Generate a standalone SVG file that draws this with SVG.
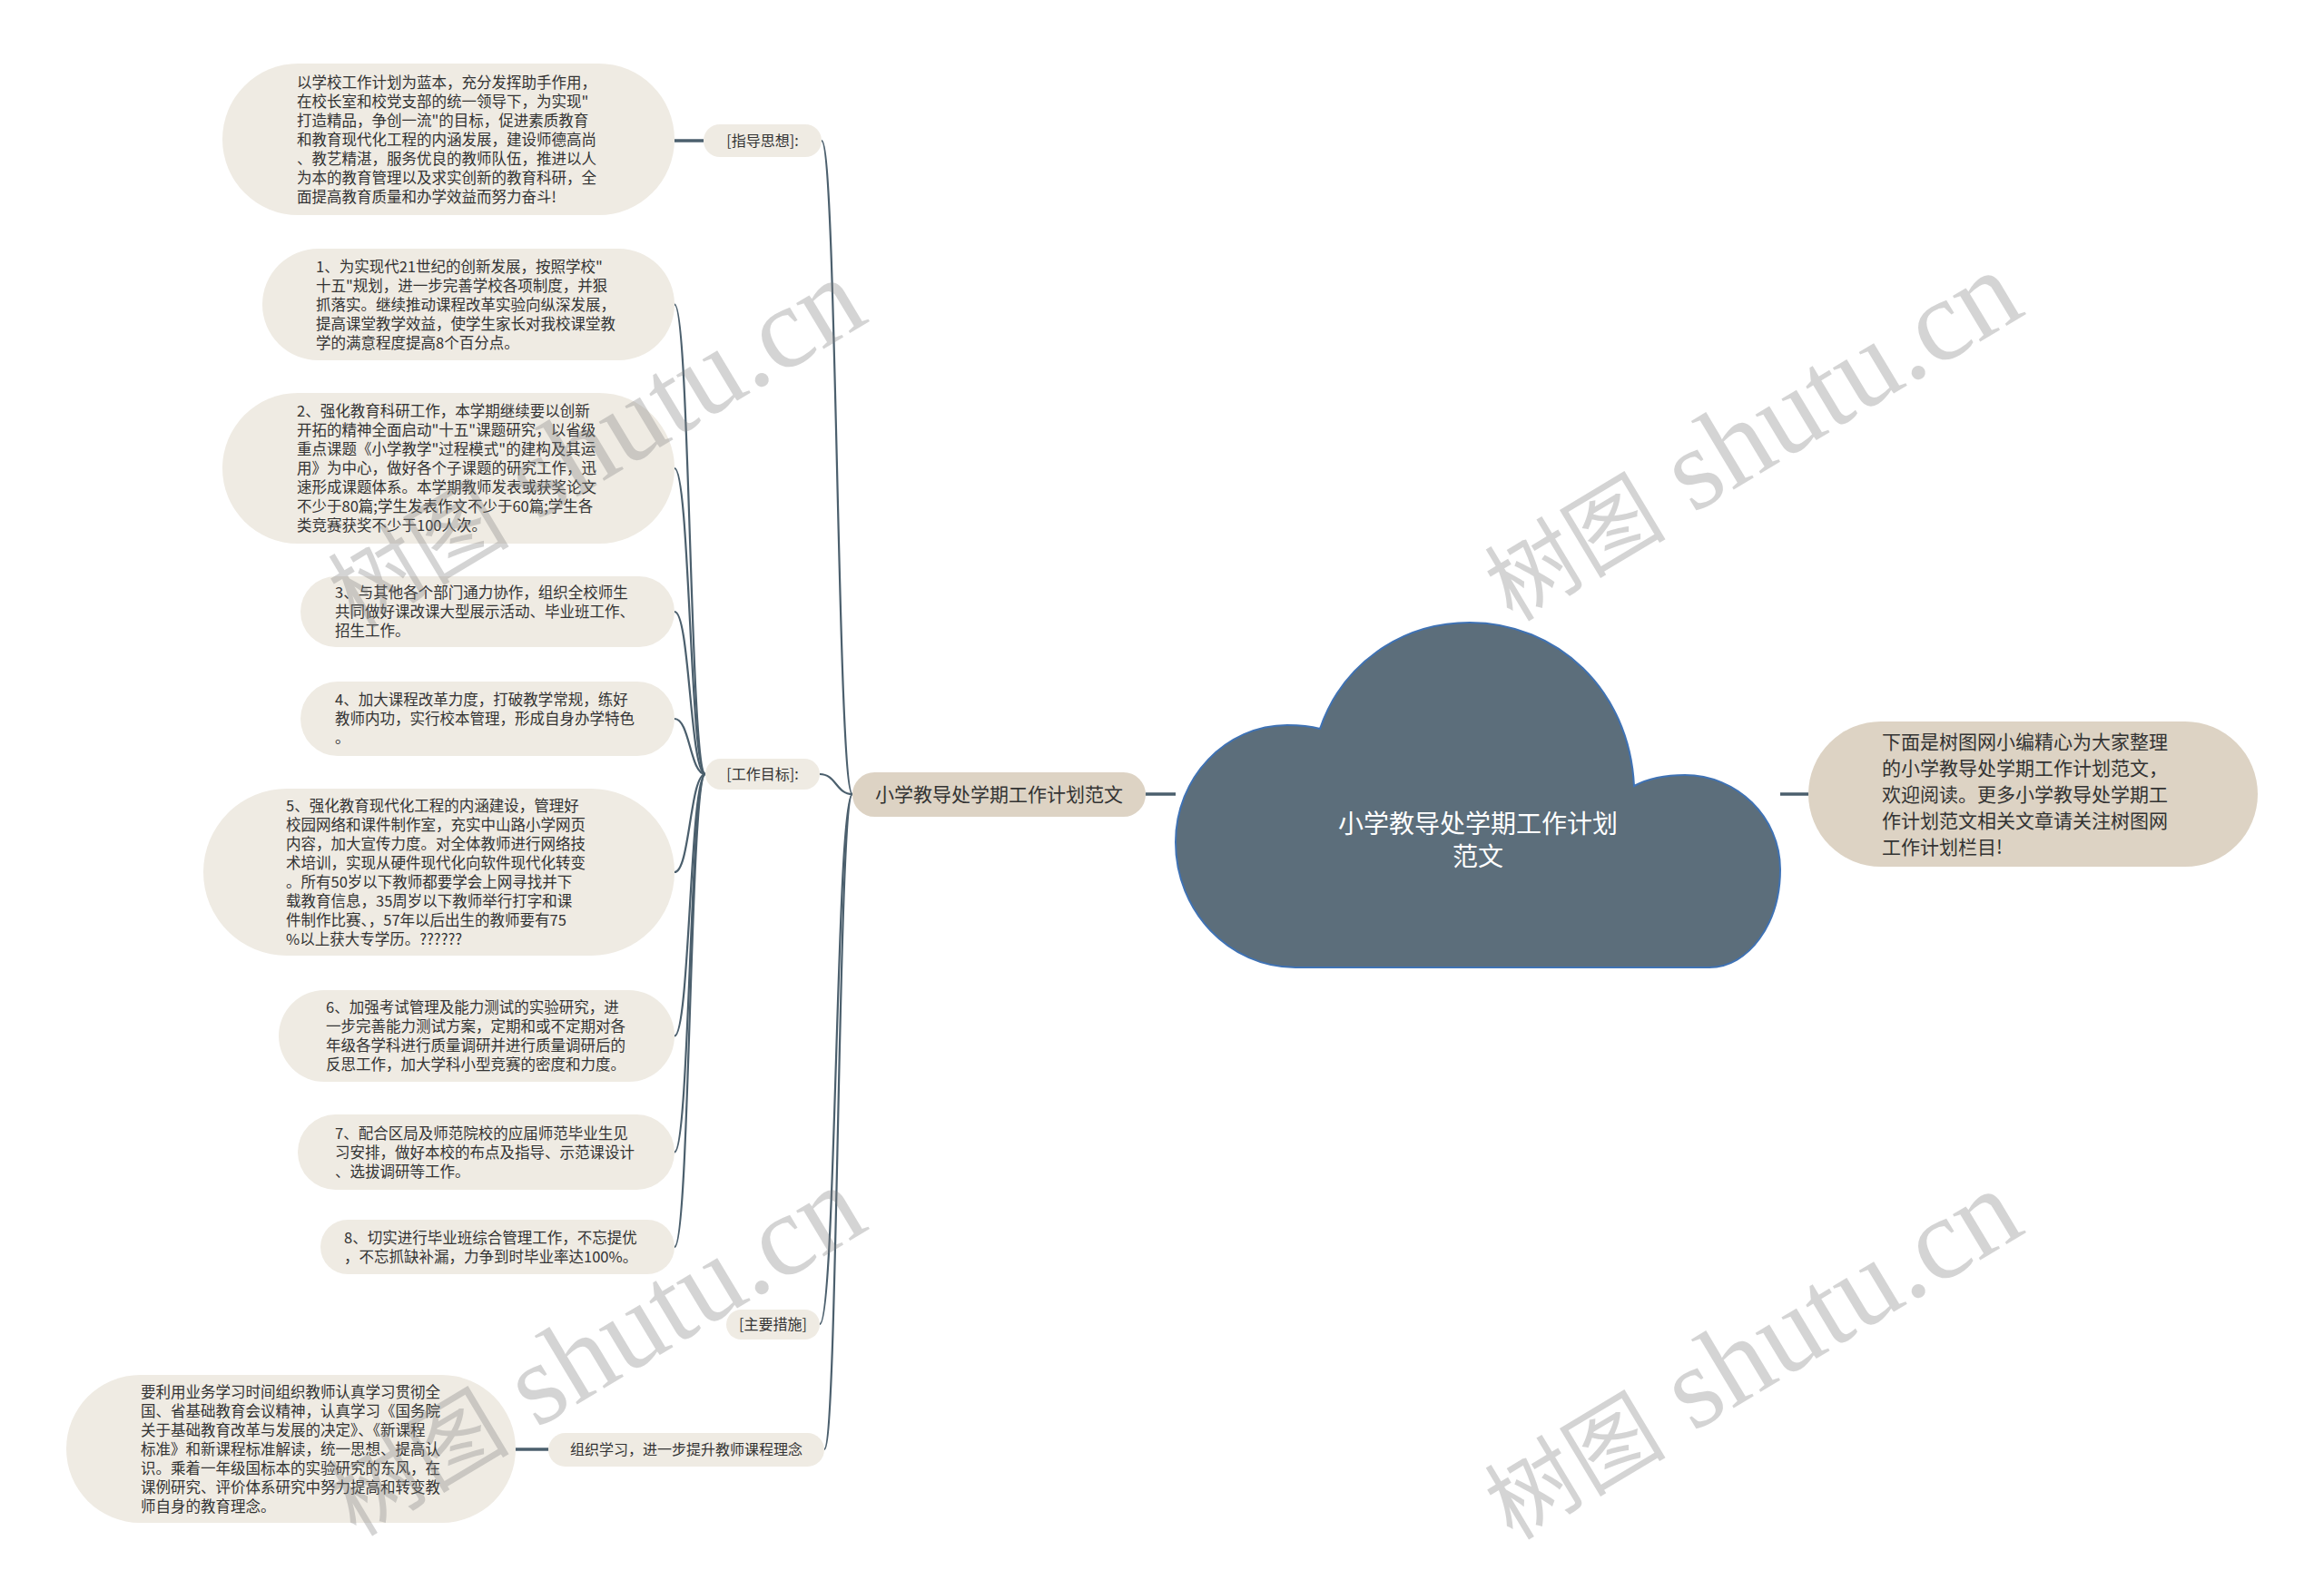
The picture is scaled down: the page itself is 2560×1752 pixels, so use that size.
<svg xmlns="http://www.w3.org/2000/svg" width="2560" height="1752" viewBox="0 0 2560 1752">
<style>
.bg{fill:#ffffff}
.leaf{fill:#efebe3}
.main{fill:#ddd3c4}
.t{font-family:"Noto Sans CJK SC","Noto Sans",sans-serif;font-size:16.5px;fill:#333333}
.lbl{font-family:"Noto Sans CJK SC","Noto Sans",sans-serif;font-size:16px;fill:#333333;text-anchor:middle}
.big{font-family:"Noto Sans CJK SC","Noto Sans",sans-serif;font-size:21px;fill:#333333}
.ctr{font-family:"Noto Sans CJK SC","Noto Sans",sans-serif;font-size:28px;fill:#ffffff;text-anchor:middle}
.c{fill:none;stroke:#4b5f6d;stroke-width:2.2}
.s{fill:none;stroke:#4b5f6d;stroke-width:3.5}
.wm{font-family:"Liberation Serif","Noto Sans CJK SC",serif;font-size:128px;fill:#808080;opacity:0.33}
.wmc{font-family:"Noto Sans CJK SC",sans-serif;font-size:100px}
</style>
<rect class="bg" x="0" y="0" width="2560" height="1752"/>

<g id="connectors">
  <path class="s" d="M1262,875 L1295,875"/>
  <path class="s" d="M1961,875 L1992,875"/>
  <path class="c" d="M939,875 C922,875 922,155 905,155"/>
  <path class="c" d="M939,875 C921,875 921,853 903,853"/>
  <path class="c" d="M939,875 C921,875 921,1459 903,1459"/>
  <path class="c" d="M939,875 C923,875 923,1597 908,1597"/>
  <path class="s" d="M743,155 L775,155"/>
  <path class="s" d="M568,1597 L604,1597"/>
  <path class="c" d="M777,853 C760,853 760,335.5 743,335.5"/>
  <path class="c" d="M777,853 C760,853 760,516 743,516"/>
  <path class="c" d="M777,853 C760,853 760,674 743,674"/>
  <path class="c" d="M777,853 C760,853 760,792 743,792"/>
  <path class="c" d="M777,853 C760,853 760,961 743,961"/>
  <path class="c" d="M777,853 C760,853 760,1141.5 743,1141.5"/>
  <path class="c" d="M777,853 C760,853 760,1269.5 743,1269.5"/>
  <path class="c" d="M777,853 C760,853 760,1374 743,1374"/>
</g>

<g id="root">
  <path d="M1427,1066 C1354,1066 1295,1004 1295,928 C1295,857 1350,799 1418,799 C1430,799 1443,800 1454,803 C1478,733 1542,686 1619,686 C1715,686 1795,760 1800,866 C1815,858 1835,854 1856,854 C1913,854 1961,900 1961,958 C1961,1018 1926,1066 1883,1066 Z" fill="#5c6e7b" stroke="#3f72b4" stroke-width="2"/>
  <text class="ctr"><tspan x="1628" y="918">小学教导处学期工作计划</tspan><tspan x="1628" y="954">范文</tspan></text>
</g>

<g id="intro">
  <rect class="main" x="1992" y="795" width="495" height="160" rx="80"/>
  <text class="big"><tspan x="2073" y="824.5">下面是树图网小编精心为大家整理</tspan><tspan x="2073" y="853.5">的小学教导处学期工作计划范文，</tspan><tspan x="2073" y="882.5">欢迎阅读。更多小学教导处学期工</tspan><tspan x="2073" y="911.5">作计划范文相关文章请关注树图网</tspan><tspan x="2073" y="940.5">工作计划栏目!</tspan></text>
</g>

<g id="branch">
  <rect class="main" x="939" y="851" width="323" height="49" rx="24.5"/>
  <text class="big" x="1100.5" y="882.5" text-anchor="middle">小学教导处学期工作计划范文</text>
</g>

<g id="label-guide">
  <rect class="leaf" x="775" y="137" width="130" height="36" rx="18"/>
  <text class="lbl" x="840" y="161">[指导思想]:</text>
</g>
<g id="label-goal">
  <rect class="leaf" x="777" y="836" width="126" height="34" rx="17"/>
  <text class="lbl" x="840" y="859">[工作目标]:</text>
</g>
<g id="label-measure">
  <rect class="leaf" x="800" y="1443" width="103" height="33" rx="16.5"/>
  <text class="lbl" x="851.5" y="1465">[主要措施]</text>
</g>
<g id="label-study">
  <rect class="leaf" x="604" y="1579" width="304" height="37" rx="18.5"/>
  <text class="lbl" x="756" y="1603">组织学习，进一步提升教师课程理念</text>
</g>

<g id="node-guide">
  <rect class="leaf" x="245" y="70" width="498" height="167" rx="83.5"/>
  <text class="t"><tspan x="327" y="97">以学校工作计划为蓝本，充分发挥助手作用，</tspan><tspan x="327" y="118">在校长室和校党支部的统一领导下，为实现"</tspan><tspan x="327" y="139">打造精品，争创一流"的目标，促进素质教育</tspan><tspan x="327" y="160">和教育现代化工程的内涵发展，建设师德高尚</tspan><tspan x="327" y="181">、教艺精湛，服务优良的教师队伍，推进以人</tspan><tspan x="327" y="202">为本的教育管理以及求实创新的教育科研，全</tspan><tspan x="327" y="223">面提高教育质量和办学效益而努力奋斗!</tspan></text>
</g>

<g id="node-1">
  <rect class="leaf" x="289" y="274" width="454" height="123" rx="61.5"/>
  <text class="t"><tspan x="348" y="300">1、为实现代21世纪的创新发展，按照学校"</tspan><tspan x="348" y="321">十五"规划，进一步完善学校各项制度，并狠</tspan><tspan x="348" y="342">抓落实。继续推动课程改革实验向纵深发展，</tspan><tspan x="348" y="363">提高课堂教学效益，使学生家长对我校课堂教</tspan><tspan x="348" y="384">学的满意程度提高8个百分点。</tspan></text>
</g>

<g id="node-2">
  <rect class="leaf" x="245" y="433" width="498" height="166" rx="83"/>
  <text class="t"><tspan x="327" y="459">2、强化教育科研工作，本学期继续要以创新</tspan><tspan x="327" y="480">开拓的精神全面启动"十五"课题研究，以省级</tspan><tspan x="327" y="501">重点课题《小学教学"过程模式"的建构及其运</tspan><tspan x="327" y="522">用》为中心，做好各个子课题的研究工作，迅</tspan><tspan x="327" y="543">速形成课题体系。本学期教师发表或获奖论文</tspan><tspan x="327" y="564">不少于80篇;学生发表作文不少于60篇;学生各</tspan><tspan x="327" y="585">类竞赛获奖不少于100人次。</tspan></text>
</g>

<g id="node-3">
  <rect class="leaf" x="331" y="635" width="412" height="78" rx="39"/>
  <text class="t"><tspan x="369" y="659">3、与其他各个部门通力协作，组织全校师生</tspan><tspan x="369" y="680">共同做好课改课大型展示活动、毕业班工作、</tspan><tspan x="369" y="701">招生工作。</tspan></text>
</g>

<g id="node-4">
  <rect class="leaf" x="331" y="751" width="412" height="82" rx="41"/>
  <text class="t"><tspan x="369" y="777">4、加大课程改革力度，打破教学常规，练好</tspan><tspan x="369" y="798">教师内功，实行校本管理，形成自身办学特色</tspan><tspan x="369" y="819">。</tspan></text>
</g>

<g id="node-5">
  <rect class="leaf" x="224" y="869" width="519" height="184" rx="92"/>
  <text class="t"><tspan x="315" y="894">5、强化教育现代化工程的内涵建设，管理好</tspan><tspan x="315" y="915">校园网络和课件制作室，充实中山路小学网页</tspan><tspan x="315" y="936">内容，加大宣传力度。对全体教师进行网络技</tspan><tspan x="315" y="957">术培训，实现从硬件现代化向软件现代化转变</tspan><tspan x="315" y="978">。所有50岁以下教师都要学会上网寻找并下</tspan><tspan x="315" y="999">载教育信息，35周岁以下教师举行打字和课</tspan><tspan x="315" y="1020">件制作比赛、，57年以后出生的教师要有75</tspan><tspan x="315" y="1041">%以上获大专学历。??????</tspan></text>
</g>

<g id="node-6">
  <rect class="leaf" x="307" y="1091" width="436" height="101" rx="50.5"/>
  <text class="t"><tspan x="359" y="1116">6、加强考试管理及能力测试的实验研究，进</tspan><tspan x="359" y="1137">一步完善能力测试方案，定期和或不定期对各</tspan><tspan x="359" y="1158">年级各学科进行质量调研并进行质量调研后的</tspan><tspan x="359" y="1179">反思工作，加大学科小型竞赛的密度和力度。</tspan></text>
</g>

<g id="node-7">
  <rect class="leaf" x="328" y="1228" width="415" height="83" rx="41.5"/>
  <text class="t"><tspan x="369" y="1255">7、配合区局及师范院校的应届师范毕业生见</tspan><tspan x="369" y="1276">习安排，做好本校的布点及指导、示范课设计</tspan><tspan x="369" y="1297">、选拔调研等工作。</tspan></text>
</g>

<g id="node-8">
  <rect class="leaf" x="353" y="1344" width="390" height="60" rx="30"/>
  <text class="t"><tspan x="379" y="1370">8、切实进行毕业班综合管理工作，不忘提优</tspan><tspan x="379" y="1391">，不忘抓缺补漏，力争到时毕业率达100%。</tspan></text>
</g>

<g id="node-study">
  <rect class="leaf" x="73" y="1515" width="495" height="163" rx="81.5"/>
  <text class="t"><tspan x="155" y="1540">要利用业务学习时间组织教师认真学习贯彻全</tspan><tspan x="155" y="1561">国、省基础教育会议精神，认真学习《国务院</tspan><tspan x="155" y="1582">关于基础教育改革与发展的决定》、《新课程</tspan><tspan x="155" y="1603">标准》和新课程标准解读，统一思想、提高认</tspan><tspan x="155" y="1624">识。乘着一年级国标本的实验研究的东风，在</tspan><tspan x="155" y="1645">课例研究、评价体系研究中努力提高和转变教</tspan><tspan x="155" y="1666">师自身的教育理念。</tspan></text>
</g>

<g id="watermarks">
  <text class="wm" transform="translate(392,694) rotate(-31)"><tspan class="wmc">树图</tspan> shutu.cn</text>
  <text class="wm" transform="translate(1666,686) rotate(-31)"><tspan class="wmc">树图</tspan> shutu.cn</text>
  <text class="wm" transform="translate(392,1694) rotate(-31)"><tspan class="wmc">树图</tspan> shutu.cn</text>
  <text class="wm" transform="translate(1666,1698) rotate(-31)"><tspan class="wmc">树图</tspan> shutu.cn</text>
</g>
</svg>
